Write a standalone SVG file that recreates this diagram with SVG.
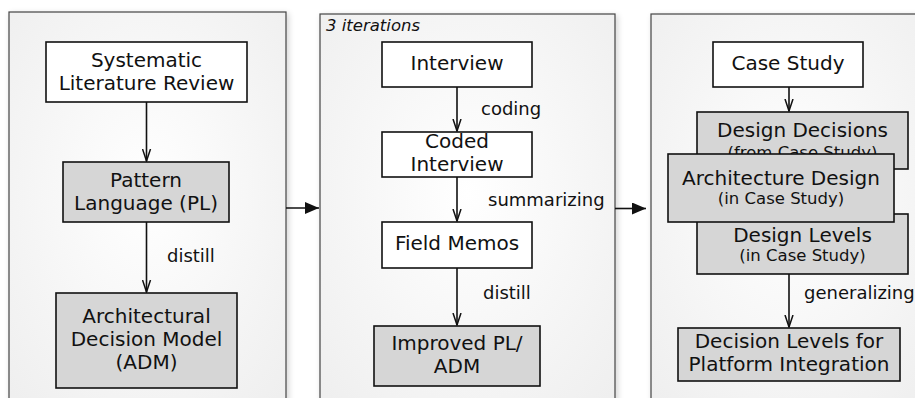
<svg xmlns="http://www.w3.org/2000/svg" width="915" height="398" viewBox="0 0 915 398">
<style>
text{font-family:"DejaVu Sans","Liberation Sans",sans-serif;fill:#111;text-anchor:middle}
.n{font-size:20px}
.s{font-size:16.5px}
.l{font-size:18px;text-anchor:start}
.it{font-size:16.5px;font-style:italic;text-anchor:start}
.panel{fill:url(#pg);stroke:#444;stroke-width:1.2;filter:url(#sh)}
.w{fill:#fff;stroke:#111;stroke-width:1.6}
.g{fill:#d6d6d6;stroke:#111;stroke-width:1.6}
.c{stroke:#111;stroke-width:1.6;fill:none}
</style>
<defs>
<radialGradient id="pg" cx="50%" cy="45%" r="70%">
<stop offset="0" stop-color="#ffffff"/>
<stop offset="1" stop-color="#efefef"/>
</radialGradient>
<filter id="sh" x="-10%" y="-10%" width="120%" height="120%">
<feGaussianBlur in="SourceAlpha" stdDeviation="3"/>
<feOffset dx="2" dy="2"/>
<feComponentTransfer><feFuncA type="linear" slope="0.18"/></feComponentTransfer>
<feMerge><feMergeNode/><feMergeNode in="SourceGraphic"/></feMerge>
</filter>
<marker id="open" viewBox="0 0 13 10" refX="12" refY="5" markerWidth="13" markerHeight="10" markerUnits="userSpaceOnUse" orient="auto">
<path d="M0,1 L12,5 L0,9" fill="none" stroke="#111" stroke-width="1.5"/>
</marker>
<marker id="fill" viewBox="0 0 14 12" refX="14" refY="6" markerWidth="14" markerHeight="12" markerUnits="userSpaceOnUse" orient="auto">
<path d="M0,0 L14,6 L0,12 Z" fill="#111"/>
</marker>
</defs>
<rect width="915" height="398" fill="#fff"/>
<g id="panel1"><rect class="panel" x="9" y="12" width="277" height="400"/></g>
<g id="panel2"><rect class="panel" x="320" y="14" width="295" height="400"/>
<text class="it" x="326" y="31">3 iterations</text></g>
<g id="panel3"><rect class="panel" x="651" y="14" width="280" height="400"/></g>

<g id="slr"><rect class="w" x="46" y="42" width="201" height="60"/>
<text class="n" x="146.5" y="66.5">Systematic</text><text class="n" x="146.5" y="90">Literature Review</text></g>
<g id="pl"><rect class="g" x="63" y="162" width="166" height="60"/>
<text class="n" x="146" y="187">Pattern</text><text class="n" x="146" y="210">Language (PL)</text></g>
<g id="adm"><rect class="g" x="56" y="293" width="181" height="95"/>
<text class="n" x="146.5" y="323">Architectural</text><text class="n" x="146.5" y="346">Decision Model</text><text class="n" x="146.5" y="369">(ADM)</text></g>

<g id="interview"><rect class="w" x="382" y="42" width="150" height="45"/>
<text class="n" x="457" y="70">Interview</text></g>
<g id="coded"><rect class="w" x="382" y="132" width="150" height="45"/>
<text class="n" x="457" y="148">Coded</text><text class="n" x="457" y="171">Interview</text></g>
<g id="memos"><rect class="w" x="382" y="222" width="150" height="46"/>
<text class="n" x="457" y="250">Field Memos</text></g>
<g id="improved"><rect class="g" x="374" y="326" width="166" height="60"/>
<text class="n" x="457" y="350">Improved PL/</text><text class="n" x="457" y="373">ADM</text></g>

<g id="case"><rect class="w" x="713" y="42" width="150" height="45"/>
<text class="n" x="788" y="70">Case Study</text></g>
<g id="dd"><rect class="g" x="697" y="112" width="211" height="57"/>
<text class="n" x="802.5" y="137">Design Decisions</text><text class="s" x="802.5" y="158">(from Case Study)</text></g>
<g id="dl"><rect class="g" x="697" y="214" width="211" height="60"/>
<text class="n" x="802.5" y="242">Design Levels</text><text class="s" x="802.5" y="261">(in Case Study)</text></g>
<g id="ad"><rect class="g" x="668" y="154" width="226" height="68"/>
<text class="n" x="781" y="185">Architecture Design</text><text class="s" x="781" y="204">(in Case Study)</text></g>
<g id="dlpi"><rect class="g" x="678" y="328" width="222" height="53"/>
<text class="n" x="789" y="348">Decision Levels for</text><text class="n" x="789" y="371">Platform Integration</text></g>

<g id="connectors">
<line class="c" x1="146.5" y1="102" x2="146.5" y2="161" marker-end="url(#open)"/>
<line class="c" x1="146.5" y1="222" x2="146.5" y2="292" marker-end="url(#open)"/>
<text class="l" x="167" y="262">distill</text>
<line class="c" x1="457" y1="87" x2="457" y2="131" marker-end="url(#open)"/>
<text class="l" x="481" y="115">coding</text>
<line class="c" x1="457" y1="177" x2="457" y2="221" marker-end="url(#open)"/>
<text class="l" x="488" y="206">summarizing</text>
<line class="c" x1="457" y1="268" x2="457" y2="325" marker-end="url(#open)"/>
<text class="l" x="483" y="299">distill</text>
<line class="c" x1="789" y1="87" x2="789" y2="111" marker-end="url(#open)"/>
<line class="c" x1="789" y1="274" x2="789" y2="327" marker-end="url(#open)"/>
<text class="l" x="804" y="299">generalizing</text>
<line class="c" x1="286" y1="208" x2="319" y2="208" marker-end="url(#fill)"/>
<line class="c" x1="615" y1="208.5" x2="646" y2="208.5" marker-end="url(#fill)"/>
</g>
</svg>
